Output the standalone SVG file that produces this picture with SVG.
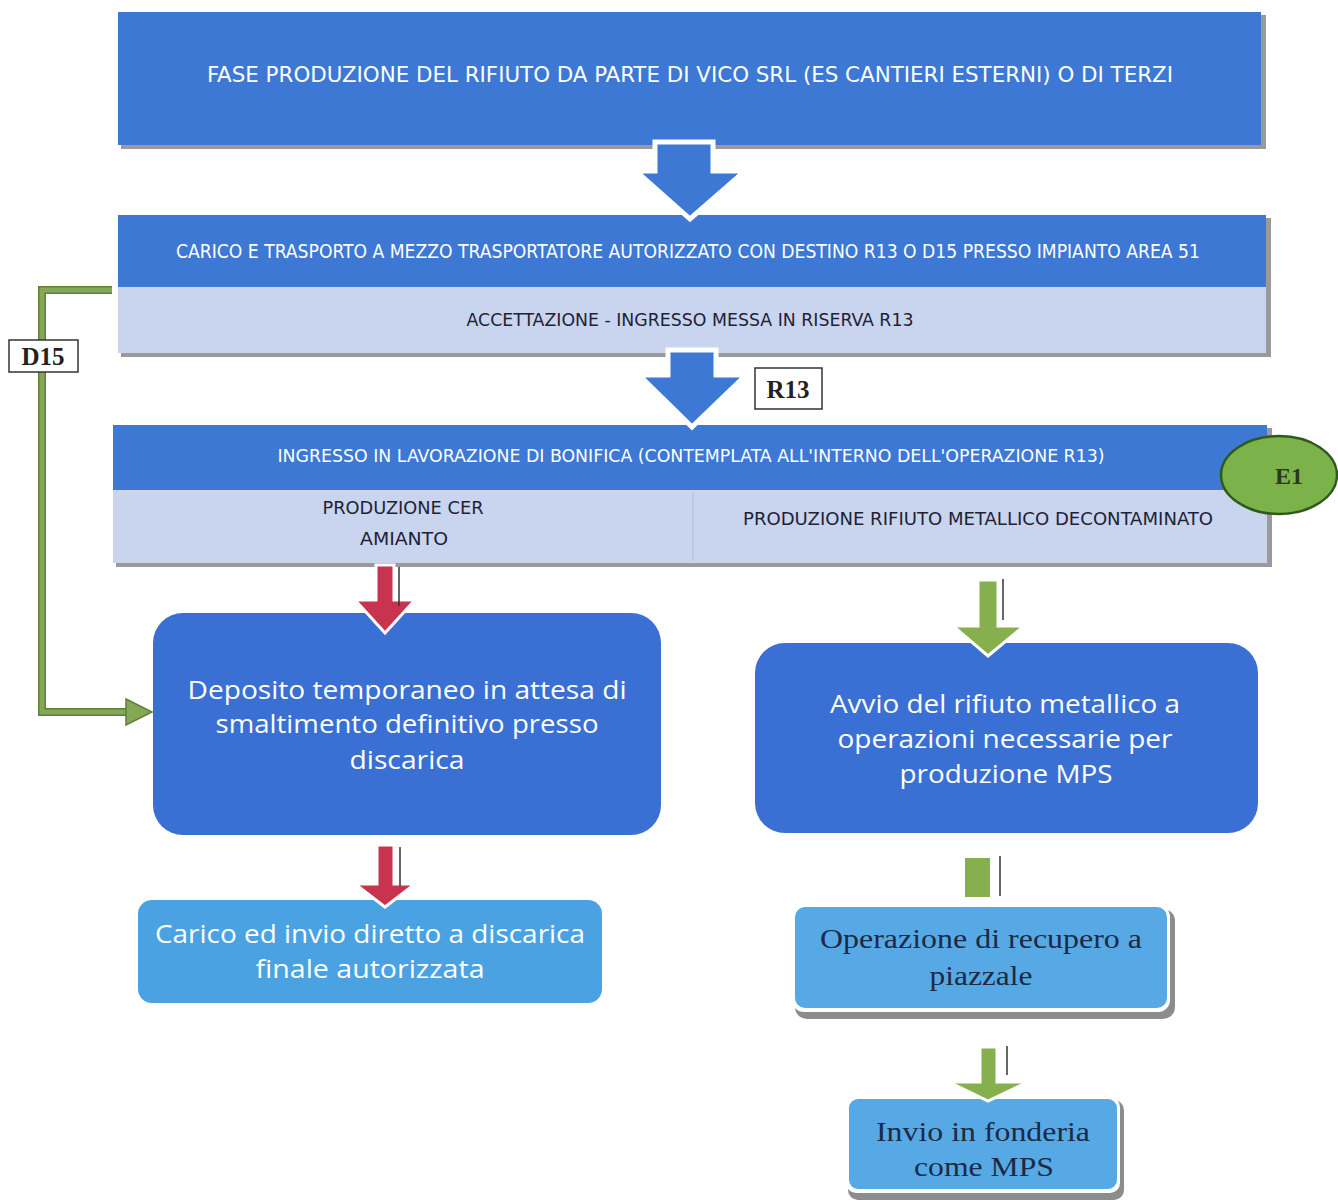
<svg xmlns="http://www.w3.org/2000/svg" width="1338" height="1204" viewBox="0 0 1338 1204">
<defs>
<style>
.bg{fill:#ffffff}
.dark{fill:#3c78d4}
.light{fill:#c9d5ee}
.shadow{fill:#9a9a9a}
.cond{font-family:"Liberation Sans Narrow","DejaVu Sans Condensed","Liberation Sans",sans-serif;text-anchor:middle}
.wt{fill:#ffffff}
.dt{fill:#1e2235}
.cal{font-family:"Open Sans","Liberation Sans",sans-serif;fill:#ffffff;text-anchor:middle;font-size:26px}
.ser{font-family:"Liberation Serif","DejaVu Serif",serif;fill:#1c2a44;text-anchor:middle;font-size:27px}
.round{fill:#3a6fd4}
.lbox{fill:#4ba2e3}
.sbox{fill:#56a9e4}
.lbl{fill:#ffffff;stroke:#333333;stroke-width:1.5}
.lbltxt{font-family:"Liberation Serif","DejaVu Serif",serif;font-weight:bold;font-size:25px;fill:#222222;text-anchor:middle}
.barrow{fill:#3c78d4;stroke:#ffffff;stroke-width:5}
.red{fill:#c8334f;stroke:#ffffff;stroke-width:3}
.grn{fill:#86b04e;stroke:#ffffff;stroke-width:3}
.thin{stroke:#333333;stroke-width:1.5}
</style>
</defs>
<rect class="bg" width="1338" height="1204"/>

<g id="box1">
  <rect class="shadow" x="121" y="15" width="1145" height="134"/>
  <rect class="dark" x="118" y="12" width="1143" height="133"/>
  <text class="cond wt" x="690" y="82" font-size="21" textLength="966" lengthAdjust="spacingAndGlyphs">FASE PRODUZIONE DEL RIFIUTO DA PARTE DI VICO SRL  (ES CANTIERI  ESTERNI) O DI TERZI</text>
</g>

<g id="box2">
  <rect class="shadow" x="121" y="218" width="1150" height="139"/>
  <rect class="dark" x="118" y="215" width="1148" height="72"/>
  <rect class="light" x="118" y="287" width="1148" height="66"/>
  <text class="cond wt" x="688" y="258" font-size="19" textLength="1024" lengthAdjust="spacingAndGlyphs">CARICO E TRASPORTO A MEZZO TRASPORTATORE AUTORIZZATO CON DESTINO R13 O D15 PRESSO IMPIANTO AREA 51</text>
  <text class="cond dt" x="690" y="326" font-size="17" textLength="447" lengthAdjust="spacingAndGlyphs">ACCETTAZIONE  - INGRESSO MESSA IN RISERVA R13</text>
</g>

<g id="box3">
  <rect class="shadow" x="116" y="428" width="1156" height="139"/>
  <rect class="dark" x="113" y="425" width="1154" height="65"/>
  <rect class="light" x="113" y="490" width="1154" height="73"/>
  <line x1="693" y1="492" x2="693" y2="561" stroke="#b8c4e0" stroke-width="1.5"/>
  <text class="cond wt" x="691" y="462" font-size="17" textLength="827" lengthAdjust="spacingAndGlyphs">INGRESSO IN LAVORAZIONE DI BONIFICA (CONTEMPLATA ALL'INTERNO DELL'OPERAZIONE R13)</text>
  <text class="cond dt" x="403" y="514" font-size="17" textLength="161" lengthAdjust="spacingAndGlyphs">PRODUZIONE  CER</text>
  <text class="cond dt" x="404" y="545" font-size="17" textLength="88" lengthAdjust="spacingAndGlyphs">AMIANTO</text>
  <text class="cond dt" x="978" y="525" font-size="17" textLength="470" lengthAdjust="spacingAndGlyphs">PRODUZIONE  RIFIUTO  METALLICO DECONTAMINATO</text>
</g>

<g id="E1">
  <ellipse cx="1279" cy="475" rx="58" ry="39" fill="#7cb24a" stroke="#2f5a1e" stroke-width="2.5"/>
  <text x="1289" y="484" font-family="Liberation Serif, serif" font-weight="bold" font-size="24" fill="#2a3a1e" text-anchor="middle">E1</text>
</g>

<g id="deposito">
  <rect class="round" x="153" y="613" width="508" height="222" rx="30"/>
  <text class="cal" x="407" y="699" textLength="439" lengthAdjust="spacingAndGlyphs">Deposito temporaneo  in attesa di</text>
  <text class="cal" x="407" y="733" textLength="383" lengthAdjust="spacingAndGlyphs">smaltimento definitivo presso</text>
  <text class="cal" x="407" y="769" textLength="115" lengthAdjust="spacingAndGlyphs">discarica</text>
</g>

<g id="carico">
  <rect class="lbox" x="138" y="900" width="464" height="103" rx="14"/>
  <text class="cal" x="370" y="943" textLength="430" lengthAdjust="spacingAndGlyphs">Carico ed invio diretto a discarica</text>
  <text class="cal" x="370" y="978" textLength="229" lengthAdjust="spacingAndGlyphs">finale  autorizzata</text>
</g>

<g id="avvio">
  <rect class="round" x="755" y="643" width="503" height="190" rx="30"/>
  <text class="cal" x="1005" y="713" textLength="350" lengthAdjust="spacingAndGlyphs">Avvio del rifiuto metallico a</text>
  <text class="cal" x="1005" y="748" textLength="335" lengthAdjust="spacingAndGlyphs">operazioni  necessarie per</text>
  <text class="cal" x="1006" y="783" textLength="213" lengthAdjust="spacingAndGlyphs">produzione MPS</text>
</g>

<g id="operazione">
  <rect x="795" y="909" width="380" height="110" rx="12" fill="#8c8c8c"/>
  <rect x="792" y="905" width="378" height="107" rx="12" fill="#ffffff"/>
  <rect class="sbox" x="795" y="907" width="372" height="101" rx="10"/>
  <text class="ser" x="981" y="948" textLength="322" lengthAdjust="spacingAndGlyphs">Operazione di recupero a</text>
  <text class="ser" x="981" y="985" textLength="103" lengthAdjust="spacingAndGlyphs">piazzale</text>
</g>

<g id="invio">
  <rect x="848" y="1100" width="276" height="100" rx="10" fill="#8c8c8c"/>
  <rect x="846" y="1097" width="274" height="96" rx="10" fill="#ffffff"/>
  <rect class="sbox" x="849" y="1099" width="268" height="90" rx="9"/>
  <text class="ser" x="983" y="1141" textLength="214" lengthAdjust="spacingAndGlyphs">Invio in fonderia</text>
  <text class="ser" x="984" y="1176" textLength="140" lengthAdjust="spacingAndGlyphs">come MPS</text>
</g>

<g id="connectors">
  <path d="M112 290 H42 V712 H128" fill="none" stroke="#5f7f3a" stroke-width="8"/>
  <path d="M112 290 H42 V712 H128" fill="none" stroke="#85a857" stroke-width="5"/>
  <polygon points="126,699 152,712 126,725" fill="#85a857" stroke="#5f7f3a" stroke-width="1.5"/>
  <polygon class="barrow" points="655,142 713,142 713,171 745,171 690,219 636,171 655,171"/>
  <polygon class="barrow" points="668,350 716,350 716,375 746,375 692,427 639,375 668,375"/>
  <polygon class="red" points="376,565 394,565 394,600 415,600 385,633 355,600 376,600"/>
  <line class="thin" x1="399" y1="567" x2="399" y2="606"/>
  <polygon class="red" points="377,845 394,845 394,884 415,884 385,907 355,884 377,884"/>
  <line class="thin" x1="400" y1="847" x2="400" y2="886"/>
  <polygon class="grn" points="978,580 998,580 998,626 1024,626 988,656 953,626 978,626"/>
  <line class="thin" x1="1003" y1="579" x2="1003" y2="620"/>
  <rect x="965" y="858" width="25" height="39" fill="#86b04e"/>
  <line class="thin" x1="1000" y1="856" x2="1000" y2="896"/>
  <polygon class="grn" points="980,1047 997,1047 997,1082 1028,1082 988,1101 949,1082 980,1082"/>
  <line class="thin" x1="1007" y1="1046" x2="1007" y2="1075"/>
</g>

<g id="labelR13">
  <rect class="lbl" x="755" y="368" width="67" height="41"/>
  <text class="lbltxt" x="788" y="398">R13</text>
</g>

<g id="labelD15">
  <rect class="lbl" x="9" y="340" width="69" height="32"/>
  <text class="lbltxt" x="43" y="365">D15</text>
</g>
</svg>
